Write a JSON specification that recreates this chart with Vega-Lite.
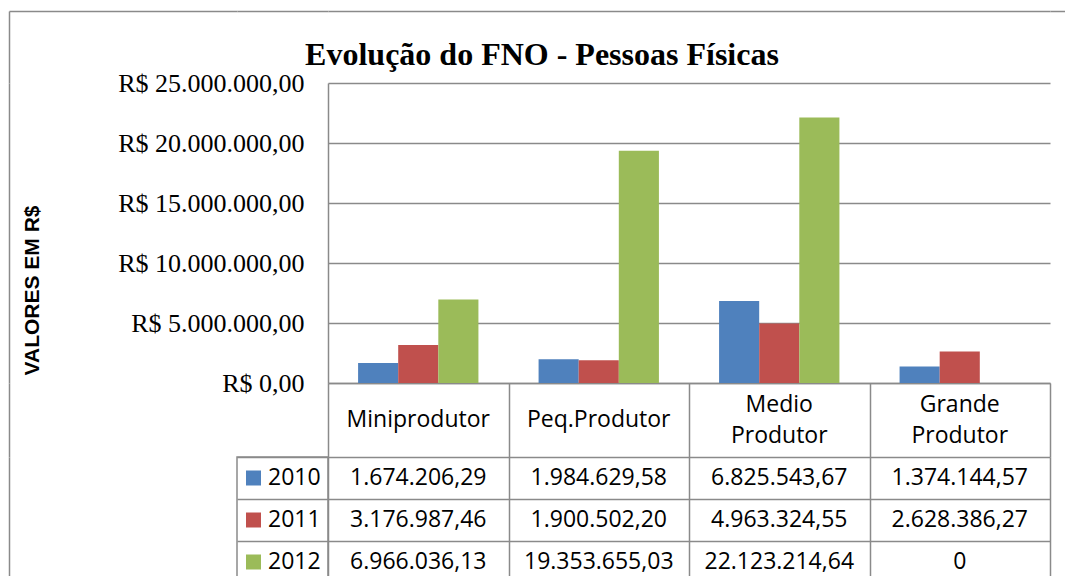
{
  "$schema": "https://vega.github.io/schema/vega-lite/v6.json",
  "background": "white",
  "padding": {"left": 9, "top": 11, "right": 0, "bottom": 0},
  "autosize": {"type": "pad"},
  "datasets": {
    "vals": [
      {"cat": "Miniprodutor", "year": "2010", "value": 1674206.29, "label": "1.674.206,29"},
      {"cat": "Peq.Produtor", "year": "2010", "value": 1984629.58, "label": "1.984.629,58"},
      {"cat": "Medio Produtor", "year": "2010", "value": 6825543.67, "label": "6.825.543,67"},
      {"cat": "Grande Produtor", "year": "2010", "value": 1374144.57, "label": "1.374.144,57"},
      {"cat": "Miniprodutor", "year": "2011", "value": 3176987.46, "label": "3.176.987,46"},
      {"cat": "Peq.Produtor", "year": "2011", "value": 1900502.20, "label": "1.900.502,20"},
      {"cat": "Medio Produtor", "year": "2011", "value": 4963324.55, "label": "4.963.324,55"},
      {"cat": "Grande Produtor", "year": "2011", "value": 2628386.27, "label": "2.628.386,27"},
      {"cat": "Miniprodutor", "year": "2012", "value": 6966036.13, "label": "6.966.036,13"},
      {"cat": "Peq.Produtor", "year": "2012", "value": 19353655.03, "label": "19.353.655,03"},
      {"cat": "Medio Produtor", "year": "2012", "value": 22123214.64, "label": "22.123.214,64"},
      {"cat": "Grande Produtor", "year": "2012", "value": 0, "label": "0"}
    ],
    "cats": [
      {"cat": "Miniprodutor"},
      {"cat": "Peq.Produtor"},
      {"cat": "Medio Produtor"},
      {"cat": "Grande Produtor"}
    ],
    "years": [
      {"year": "2010"},
      {"year": "2011"},
      {"year": "2012"}
    ],
    "blank": [{"k": ""}]
  },
  "columns": 4,
  "spacing": 0,
  "bounds": "flush",
  "align": "each",
  "concat": [
    {
      "width": 228, "height": 72,
      "data": {"name": "blank"},
      "mark": {"type": "text", "text": ""},
      "encoding": {
        "x": {"datum": "a", "type": "nominal", "axis": {"orient": "top", "labels": false, "ticks": false, "grid": false, "title": null, "domain": true}},
        "y": {"datum": "a", "type": "nominal", "axis": {"orient": "left", "labels": false, "ticks": false, "grid": false, "title": null, "domain": true}}
      }
    },
    {
      "width": 91, "height": 72,
      "data": {"name": "blank"},
      "mark": {"type": "text", "text": ""},
      "encoding": {
        "x": {"datum": "a", "type": "nominal", "axis": {"orient": "top", "labels": false, "ticks": false, "grid": false, "title": null, "domain": true}}
      }
    },
    {
      "width": 722, "height": 72,
      "title": {
        "text": "Evolução do FNO - Pessoas Físicas",
        "font": "Liberation Serif",
        "fontSize": 32,
        "fontWeight": "bold",
        "color": "black",
        "anchor": "middle",
        "baseline": "alphabetic",
        "offset": -86,
        "dx": -147
      },
      "data": {"name": "blank"},
      "mark": {"type": "text", "text": ""},
      "encoding": {
        "x": {"datum": "a", "type": "nominal", "axis": {"orient": "top", "labels": false, "ticks": false, "grid": false, "title": null, "domain": true}}
      }
    },
    {
      "width": 30, "height": 72,
      "data": {"name": "blank"},
      "mark": {"type": "text", "text": ""},
      "encoding": {
        "x": {"datum": "a", "type": "nominal", "axis": {"orient": "top", "labels": false, "ticks": false, "grid": false, "title": null, "domain": true}}
      }
    },
    {
      "width": 228, "height": 300,
      "data": {"name": "blank"},
      "mark": {"type": "text", "text": ""},
      "encoding": {
        "y": {"datum": "a", "type": "nominal", "axis": {"orient": "left", "labels": false, "ticks": false, "grid": false, "title": null, "domain": true}}
      }
    },
    {
      "width": 91, "height": 300,
      "data": {"name": "blank"},
      "mark": {"type": "text", "text": ""},
      "encoding": {}
    },
    {
      "width": 722,
      "height": 300,
      "data": {"name": "vals"},
      "mark": {"type": "bar"},
      "encoding": {
        "x": {
          "field": "cat",
          "type": "nominal",
          "scale": {"domain": ["Miniprodutor", "Peq.Produtor", "Medio Produtor", "Grande Produtor"], "paddingInner": 0.3333, "paddingOuter": 0.1667},
          "axis": {"labels": false, "ticks": false, "title": null, "domain": true, "grid": false}
        },
        "xOffset": {
          "field": "year",
          "type": "nominal",
          "scale": {"domain": ["2010", "2011", "2012"], "paddingInner": 0, "paddingOuter": 0}
        },
        "y": {
          "field": "value",
          "type": "quantitative",
          "scale": {"domain": [0, 25000000], "nice": false},
          "axis": {
            "values": [0, 5000000, 10000000, 15000000, 20000000, 25000000],
            "format": "$,.2f",
            "grid": true,
            "ticks": false,
            "tickSize": 0,
            "domain": true,
            "labelFont": "Liberation Serif",
            "labelFontSize": 26,
            "labelColor": "black",
            "labelPadding": 24,
            "labelLimit": 0,
            "labelBaseline": "middle",
            "title": "VALORES EM R$",
            "titleFont": "Liberation Sans",
            "titleFontSize": 21,
            "titleFontWeight": "bold",
            "titleColor": "black",
            "titleAngle": -90,
            "titleAlign": "center",
            "titleBaseline": "alphabetic",
            "titleX": -290,
            "titleY": 207
          }
        },
        "color": {
          "field": "year",
          "type": "nominal",
          "scale": {"domain": ["2010", "2011", "2012"], "range": ["#4F81BD", "#C0504D", "#9BBB59"]},
          "legend": null
        }
      }
    },
    {
      "width": 30, "height": 300,
      "data": {"name": "blank"},
      "mark": {"type": "text", "text": ""},
      "encoding": {}
    },
    {
      "width": 228, "height": 74,
      "data": {"name": "blank"},
      "mark": {"type": "text", "text": ""},
      "encoding": {
        "y": {"datum": "a", "type": "nominal", "axis": {"orient": "left", "labels": false, "ticks": false, "grid": false, "title": null, "domain": true}}
      }
    },
    {
      "width": 91, "height": 74,
      "data": {"name": "blank"},
      "mark": {"type": "text", "text": ""},
      "encoding": {}
    },
    {
      "width": 722,
      "height": 74,
      "data": {"name": "cats"},
      "encoding": {
        "x": {
          "field": "cat",
          "type": "nominal",
          "scale": {"domain": ["Miniprodutor", "Peq.Produtor", "Medio Produtor", "Grande Produtor"], "paddingInner": 0, "paddingOuter": 0},
          "axis": {"labels": false, "ticks": false, "domain": false, "grid": true, "tickBand": "extent", "title": null}
        },
        "text": {"field": "cat"}
      },
      "layer": [
        {
          "transform": [{"filter": "indexof(datum.cat, ' ') < 0"}],
          "mark": {"type": "text", "baseline": "middle"}
        },
        {
          "transform": [{"filter": "indexof(datum.cat, ' ') >= 0"}],
          "mark": {"type": "text", "lineBreak": " ", "lineHeight": 31, "baseline": "middle", "dy": -15.5}
        }
      ]
    },
    {
      "width": 30, "height": 74,
      "data": {"name": "blank"},
      "mark": {"type": "text", "text": ""},
      "encoding": {}
    },
    {
      "width": 228, "height": 126,
      "data": {"name": "blank"},
      "mark": {"type": "text", "text": ""},
      "encoding": {
        "y": {"datum": "a", "type": "nominal", "axis": {"orient": "left", "labels": false, "ticks": false, "grid": false, "title": null, "domain": true}}
      }
    },
    {
      "width": 91,
      "height": 126,
      "data": {"name": "years"},
      "view": {"stroke": "#8a8a8a", "strokeWidth": 1.5},
      "encoding": {
        "y": {
          "field": "year",
          "type": "nominal",
          "scale": {"domain": ["2010", "2011", "2012"], "paddingInner": 0, "paddingOuter": 0},
          "axis": {"labels": false, "ticks": false, "domain": false, "grid": true, "tickBand": "extent", "title": null}
        }
      },
      "layer": [
        {
          "mark": {"type": "point", "shape": "square", "filled": true, "size": 225, "opacity": 1, "xOffset": -29},
          "encoding": {
            "color": {
              "field": "year",
              "type": "nominal",
              "scale": {"domain": ["2010", "2011", "2012"], "range": ["#4F81BD", "#C0504D", "#9BBB59"]},
              "legend": null
            }
          }
        },
        {
          "mark": {"type": "text", "align": "left", "baseline": "middle", "xOffset": -14.5},
          "encoding": {"text": {"field": "year"}}
        }
      ]
    },
    {
      "width": 722,
      "height": 126,
      "data": {"name": "vals"},
      "mark": {"type": "text", "baseline": "middle"},
      "encoding": {
        "x": {
          "field": "cat",
          "type": "nominal",
          "scale": {"domain": ["Miniprodutor", "Peq.Produtor", "Medio Produtor", "Grande Produtor"], "paddingInner": 0, "paddingOuter": 0},
          "axis": {"labels": false, "ticks": false, "domain": false, "grid": true, "tickBand": "extent", "title": null}
        },
        "y": {
          "field": "year",
          "type": "nominal",
          "scale": {"domain": ["2010", "2011", "2012"], "paddingInner": 0, "paddingOuter": 0},
          "axis": {"labels": false, "ticks": false, "domain": false, "grid": true, "tickBand": "extent", "title": null}
        },
        "text": {"field": "label"}
      }
    },
    {
      "width": 30, "height": 126,
      "data": {"name": "blank"},
      "mark": {"type": "text", "text": ""},
      "encoding": {}
    }
  ],
  "config": {
    "locale": {"number": {"decimal": ",", "thousands": ".", "grouping": [3], "currency": ["R$ ", ""]}},
    "view": {"stroke": null},
    "axis": {"gridColor": "#8a8a8a", "gridWidth": 1.5, "gridOpacity": 1, "domainColor": "#8a8a8a", "domainWidth": 1.5},
    "text": {"font": "Open Sans", "fontSize": 23, "color": "black"}
  }
}
